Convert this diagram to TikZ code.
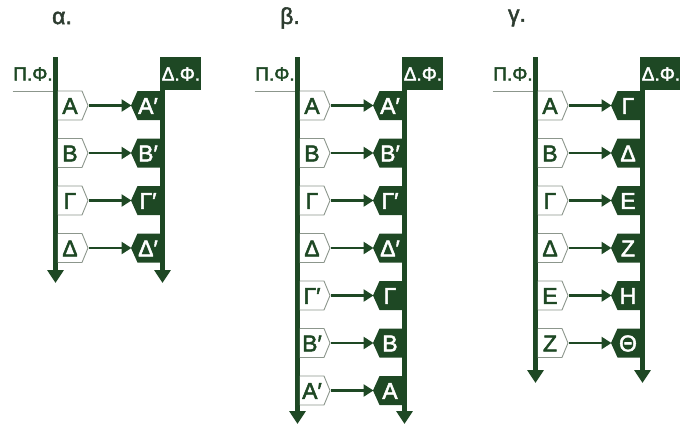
\documentclass[tikz,border=0pt]{standalone}
\usepackage{fontspec}
\setmainfont{Liberation Sans}
\newfontfamily\labfont[FakeBold=2.2]{Liberation Sans}
\usetikzlibrary{arrows.meta}
\definecolor{dg}{RGB}{30,72,36}
\definecolor{ol}{RGB}{140,150,140}
\definecolor{tt}{RGB}{45,60,48}
\tikzset{
  bar/.style={draw=dg, line width=4.8pt, -{Triangle[width=16pt,length=13pt]}},
  inshape/.style={draw=ol, line width=0.9pt, fill=white},
  outshape/.style={fill=dg},
  link/.style={draw=dg, line width=2.9pt, -{Triangle[width=12pt,length=10pt]}},
  inlab/.style={text=dg, font=\labfont\fontsize{23}{23}\selectfont, inner sep=0pt},
  outlab/.style={text=white, font=\labfont\fontsize{23}{23}\selectfont, inner sep=0pt},
  hdr/.style={text=dg, font=\labfont\fontsize{19}{19}\selectfont, inner sep=0pt},
  hdrw/.style={text=white, font=\labfont\fontsize{19}{19}\selectfont, inner sep=0pt},
  ttl/.style={text=tt, font=\labfont\fontsize{23}{23}\selectfont, inner sep=0pt},
  uline/.style={draw=ol, line width=0.9pt}
}
\newcommand\mypanel[4]{%
  \pgfmathsetmacro\Lx{#1}%
  \pgfmathsetmacro\Rx{#1+107}%
  \coordinate (#3lt) at (\Lx,57);
  \coordinate (#3lb) at (\Lx,#2);
  \coordinate (#3rt) at (\Rx,57);
  \coordinate (#3rb) at (\Rx,#2);
  \draw[bar] (#3lt) -- (#3lb);
  \draw[bar] (#3rt) -- (#3rb);
  \coordinate (#3u1) at (\Lx-43,91);
  \coordinate (#3u2) at (\Lx-2.4,91);
  \draw[uline] (#3u1) -- (#3u2);
  \node[hdr] (#3pf) at (\Lx-22.5,74) {Π.Φ.};
  \fill[dg] (\Rx-2.4,57) rectangle (\Rx+38,90);
  \node[hdrw] (#3df) at (\Rx+18.5,74) {Δ.Φ.};
  \foreach \a/\b [count=\k] in {#4} {
    \pgfmathsetmacro\yy{105.5+47.5*(\k-1)}
    \draw[inshape] (\Lx+2.4,\yy-14.5) -- (\Lx+26.5,\yy-14.5) -- (\Lx+32.5,\yy)
       -- (\Lx+26.5,\yy+14.5) -- (\Lx+2.4,\yy+14.5);
    \fill[outshape] (\Rx,\yy-14.5) -- (\Rx-25,\yy-14.5) -- (\Rx-31.5,\yy)
       -- (\Rx-25,\yy+14.5) -- (\Rx,\yy+14.5) -- cycle;
    \coordinate (#3i\k) at (\Lx+33,\yy);
    \coordinate (#3o\k) at (\Rx-31,\yy);
    \node[inlab] (#3il\k) at (\Lx+14.5,\yy+0.5) {\a};
    \node[outlab] (#3ol\k) at (\Rx-14.5,\yy+0.5) {\b};
    \draw[link] (#3i\k) -- (#3o\k);
  }
}
\begin{document}
\begin{tikzpicture}[x=1pt,y=-1pt]
\useasboundingbox (0,0) rectangle (680,429);
\node[ttl] (ta) at (62,18) {α.};
\node[ttl] (tb) at (290,18) {β.};
\node[ttl] (tc) at (517,18) {γ.};
\mypanel{55.5}{283}{a}{Α/Α′,Β/Β′,Γ/Γ′,Δ/Δ′}
\mypanel{297.5}{424}{b}{Α/Α′,Β/Β′,Γ/Γ′,Δ/Δ′,Γ′/Γ,Β′/Β,Α′/Α}
\mypanel{535.5}{383}{c}{Α/Γ,Β/Δ,Γ/Ε,Δ/Ζ,Ε/Η,Ζ/Θ}
\end{tikzpicture}
\end{document}
